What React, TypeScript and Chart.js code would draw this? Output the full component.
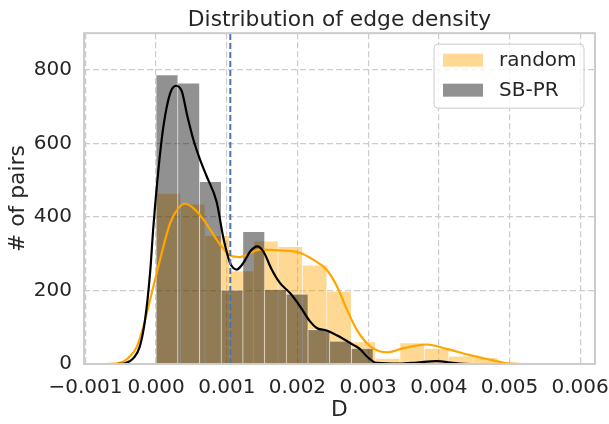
import React, { useEffect, useRef } from 'react';
import { Chart, registerables } from 'chart.js';

Chart.register(...registerables);

// ---- data ----
const randomBinCenters = [0.000173, 0.000518, 0.000863, 0.001208, 0.001553, 0.001898, 0.002243, 0.002588, 0.002933, 0.003278, 0.003623, 0.003968, 0.004313, 0.004658];
const randomCounts = [465, 436, 350, 254, 335, 320, 270, 199, 61, 16, 58, 43, 22, 18];

const sbprBinCenters = [0.000154, 0.000461, 0.000768, 0.001075, 0.001382, 0.001689, 0.001996, 0.002303, 0.00261, 0.002917];
const sbprCounts = [787, 765, 497, 202, 361, 204, 191, 94, 63, 43];

const randomKdeX = [-0.0007, -0.00051, -0.00037, -0.00027, -0.00018, -0.000085, 0.00001, 0.000104, 0.0002, 0.000316, 0.00041, 0.000528, 0.00067, 0.000858, 0.000905, 0.001047, 0.00118, 0.00133, 0.00147, 0.00175, 0.00204, 0.00222, 0.00241, 0.00256, 0.0027, 0.00284, 0.00303, 0.00317, 0.00328, 0.0035, 0.00383, 0.00411, 0.00444, 0.00477, 0.00496, 0.0053, 0.0059];
const randomKdeY = [0, 3, 21, 48, 102, 175, 248, 320, 384, 424, 436, 424, 393, 338, 325, 296, 291, 302, 311, 309, 302, 284, 257, 211, 148, 93, 48, 34, 32, 43, 53, 41, 24, 10, 2, 0, 0];

const sbprKdeX = [-0.00055, -0.00044, -0.00032, -0.00023, -0.000156, -0.000085, -0.000038, 0.000033, 0.000104, 0.0002, 0.000283, 0.000363, 0.000443, 0.000528, 0.000622, 0.000717, 0.000858, 0.00095, 0.001047, 0.00114, 0.001235, 0.00133, 0.001433, 0.001518, 0.001636, 0.001754, 0.001895, 0.002037, 0.002178, 0.002273, 0.002414, 0.002556, 0.00279, 0.00289, 0.00298, 0.00312, 0.00345, 0.00369, 0.00397, 0.0042, 0.00444, 0.0047];
const sbprKdeY = [0, 2, 16, 48, 120, 248, 374, 529, 647, 737, 757, 742, 674, 610, 556, 510, 440, 345, 275, 257, 275, 306, 320, 306, 257, 220, 193, 157, 116, 98, 91, 78, 52, 40, 21, 3, 1, 4, 8, 3, 0, 0];

const thresholdX = 0.00105;

const xTicks = [-0.001, 0, 0.001, 0.002, 0.003, 0.004, 0.005, 0.006];
const yTicks = [0, 200, 400, 600, 800];
const xMin = -0.00102;
const xMax = 0.00621;
const yMin = 0;
const yMax = 900;

const seriesNames = ['random', 'SB-PR'];
const titleText = 'Distribution of edge density';
const xLabel = 'D';
const yLabel = '# of pairs';

// ---- styles ----
const FONT = 'DejaVu Sans';
const TEXT = '#262626';
const GRID = '#cccccc';
const ORANGE_FILL = 'rgba(255,165,0,0.42)';
const GRAY_FILL = 'rgba(0,0,0,0.43)';
const EDGE = 'rgba(255,255,255,0.45)';

const framePlugin = {
  id: 'frame',
  afterDatasetsDraw(chart: any) {
    const { ctx, chartArea: a } = chart;
    ctx.save();
    ctx.strokeStyle = GRID;
    ctx.lineWidth = 2;
    ctx.strokeRect(a.left, a.top, a.right - a.left, a.bottom - a.top);
    ctx.restore();
  },
};

const legendPlugin = {
  id: 'boxLegend',
  afterDraw(chart: any) {
    const { ctx, chartArea: a } = chart;
    const w = 150;
    const h = 64;
    const x0 = a.right - 11 - w;
    const y0 = a.top + 11;
    ctx.save();
    ctx.beginPath();
    const r = 4;
    ctx.moveTo(x0 + r, y0);
    ctx.lineTo(x0 + w - r, y0);
    ctx.arcTo(x0 + w, y0, x0 + w, y0 + r, r);
    ctx.lineTo(x0 + w, y0 + h - r);
    ctx.arcTo(x0 + w, y0 + h, x0 + w - r, y0 + h, r);
    ctx.lineTo(x0 + r, y0 + h);
    ctx.arcTo(x0, y0 + h, x0, y0 + h - r, r);
    ctx.lineTo(x0, y0 + r);
    ctx.arcTo(x0, y0, x0 + r, y0, r);
    ctx.closePath();
    ctx.fillStyle = 'rgba(255,255,255,0.8)';
    ctx.fill();
    ctx.strokeStyle = GRID;
    ctx.lineWidth = 1;
    ctx.stroke();
    const fills = [ORANGE_FILL, GRAY_FILL];
    ctx.font = `20px "${FONT}"`;
    ctx.textBaseline = 'middle';
    ctx.textAlign = 'left';
    seriesNames.forEach((name, i) => {
      const cy = y0 + 16 + i * 30;
      ctx.fillStyle = fills[i];
      ctx.fillRect(x0 + 9, cy - 6.5, 40, 13);
      ctx.fillStyle = TEXT;
      ctx.fillText(name, x0 + 65, cy + 1);
    });
    ctx.restore();
  },
};

export default function App() {
  const ref = useRef<HTMLCanvasElement | null>(null);

  useEffect(() => {
    if (!ref.current) return;
    Chart.defaults.font.family = FONT;
    Chart.defaults.color = TEXT;

    const chart = new Chart(ref.current, {
      type: 'bar',
      data: {
        datasets: [
          {
            type: 'line',
            label: 'threshold',
            data: [{ x: thresholdX, y: yMin }, { x: thresholdX, y: yMax }],
            borderColor: '#4C72B0',
            borderWidth: 2,
            borderDash: [6, 3],
            pointRadius: 0,
            xAxisID: 'x',
            order: 0,
          } as any,
          {
            type: 'line',
            label: 'SB-PR kde',
            data: sbprKdeX.map((x, i) => ({ x, y: sbprKdeY[i] })),
            borderColor: '#000000',
            borderWidth: 2.2,
            pointRadius: 0,
            cubicInterpolationMode: 'monotone',
            xAxisID: 'x',
            order: 1,
          } as any,
          {
            type: 'line',
            label: 'random kde',
            data: randomKdeX.map((x, i) => ({ x, y: randomKdeY[i] })),
            borderColor: '#FFA500',
            borderWidth: 2.2,
            pointRadius: 0,
            cubicInterpolationMode: 'monotone',
            xAxisID: 'x',
            order: 2,
          } as any,
          {
            type: 'bar',
            label: seriesNames[1],
            data: sbprBinCenters.map((x, i) => ({ x, y: sbprCounts[i] })),
            backgroundColor: GRAY_FILL,
            borderColor: EDGE,
            borderWidth: { top: 1, left: 0.6, right: 0.6, bottom: 0 },
            borderSkipped: false,
            barPercentage: 1,
            categoryPercentage: 1,
            grouped: false,
            xAxisID: 'x2',
            order: 3,
          } as any,
          {
            type: 'bar',
            label: seriesNames[0],
            data: randomBinCenters.map((x, i) => ({ x, y: randomCounts[i] })),
            backgroundColor: ORANGE_FILL,
            borderColor: EDGE,
            borderWidth: { top: 1, left: 0.6, right: 0.6, bottom: 0 },
            borderSkipped: false,
            barPercentage: 1,
            categoryPercentage: 1,
            grouped: false,
            xAxisID: 'x',
            order: 4,
          } as any,
        ],
      },
      options: {
        responsive: false,
        animation: false,
        devicePixelRatio: 1,
        layout: { padding: { left: 0, right: 14, top: 0, bottom: 0 } },
        plugins: {
          legend: { display: false },
          tooltip: { enabled: false },
          title: {
            display: true,
            fullSize: false,
            text: titleText,
            color: TEXT,
            font: { family: FONT, size: 21.8, weight: 'normal' as any },
            padding: { top: 7, bottom: 0 },
          } as any,
        },
        scales: {
          x: {
            type: 'linear',
            position: 'bottom',
            min: xMin,
            max: xMax,
            offset: false,
            afterBuildTicks: (s: any) => {
              s.ticks = xTicks.map((v) => ({ value: v }));
            },
            afterFit: (s: any) => {
              s.height = 60;
              s.paddingLeft = 0;
              s.paddingRight = 0;
            },
            ticks: {
              autoSkip: false,
              maxRotation: 0,
              padding: 12,
              color: TEXT,
              font: { family: FONT, size: 20 },
              callback: (v: any) => {
                const n = Number(v);
                const s = Math.abs(n).toFixed(3);
                return n < -1e-12 ? '\u2212' + s : s;
              },
            },
            grid: {
              color: GRID,
              lineWidth: 1.2,
              drawTicks: false,
              offset: false,
            },
            border: { display: false, dash: [6, 3] },
            title: {
              display: true,
              text: xLabel,
              color: TEXT,
              font: { family: FONT, size: 21.8 },
              padding: { top: 0, bottom: 1 },
            },
          } as any,
          x2: {
            type: 'linear',
            display: false,
            min: xMin,
            max: xMax,
            offset: false,
            afterBuildTicks: (s: any) => {
              s.ticks = xTicks.map((v) => ({ value: v }));
            },
          } as any,
          y: {
            type: 'linear',
            min: yMin,
            max: yMax,
            afterBuildTicks: (s: any) => {
              s.ticks = yTicks.map((v) => ({ value: v }));
            },
            afterFit: (s: any) => {
              s.width = 84;
              s.paddingTop = 0;
              s.paddingBottom = 0;
            },
            ticks: {
              padding: 12,
              color: TEXT,
              font: { family: FONT, size: 20 },
              callback: (v: any) => String(v),
            },
            grid: {
              color: GRID,
              lineWidth: 1.2,
              drawTicks: false,
            },
            border: { display: false, dash: [6, 3] },
            title: {
              display: true,
              text: yLabel,
              color: TEXT,
              font: { family: FONT, size: 21.8 },
              padding: { top: 5, bottom: 0 },
            },
          } as any,
        },
      },
      plugins: [framePlugin, legendPlugin],
    });

    return () => chart.destroy();
  }, []);

  return (
    <div style={{ position: 'absolute', left: 0, top: 0, width: 609, height: 424, background: '#ffffff' }}>
      <canvas ref={ref} width={609} height={424} style={{ width: 609, height: 424, display: 'block' }} />
    </div>
  );
}
